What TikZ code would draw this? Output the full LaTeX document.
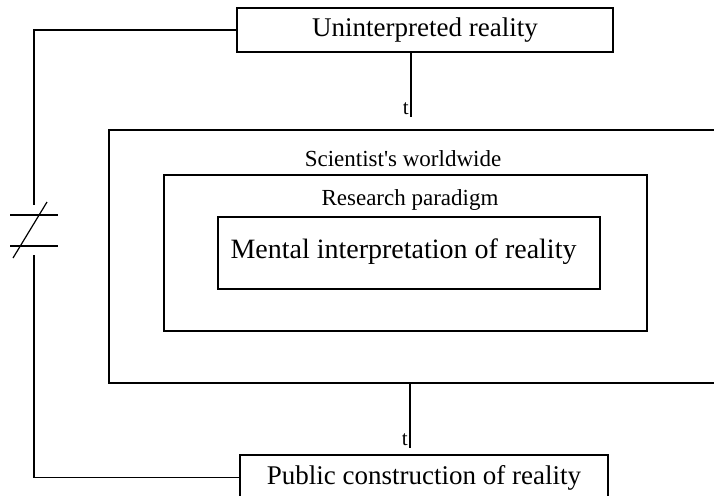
\documentclass[tikz,border=0pt]{standalone}
\usepackage{fontspec}
\setmainfont{Liberation Serif}
\usetikzlibrary{positioning}
\tikzset{
  box/.style={draw, line width=0.6pt, inner sep=0pt, font=\fontsize{13.5}{16}\selectfont},
  lbl/.style={inner sep=0pt, font=\fontsize{11.5}{14}\selectfont},
  tick/.style={inner sep=1pt, font=\fontsize{10.5}{12}\selectfont},
  wire/.style={line width=0.6pt}
}

\begin{document}
\begin{tikzpicture}[x=0.5pt, y=-0.5pt]
			\useasboundingbox (0,0) rectangle (714,495);
			\clip (0,0) rectangle (714,495);
			% the three nested frames
			\node[box, minimum width=305.5pt, minimum height=126.5pt] (world) at (414.5,256.5) {};
			\node[box, minimum width=241.5pt, minimum height=78pt] (paradigm) at (405.5,253) {};
			\node[box, minimum width=191pt, minimum height=36pt] (mental) at (409,253) {};
			\node[lbl, font=\fontsize{14}{16}\selectfont] (mentallbl) at (403.5,252) {Mental interpretation of reality};
			\node[lbl] (worldlbl) at (403,159) {Scientist\textquotesingle s worldwide};
			\node[lbl] (paradigmlbl) at (410,200) {Research paradigm};
			% top and bottom boxes
			\node[box, minimum width=188pt, minimum height=22pt] (reality) at (425,30) {Uninterpreted reality};
			\node[box, minimum width=184pt, minimum height=22.5pt] (public) at (424,477.5) {Public construction of reality};
			% vertical links
			\coordinate (tTop) at (411,117);
			\coordinate (tBot) at (410,448);
			\draw[wire] (tTop |- reality.south) -- (tTop);
			\draw[wire] (tBot |- world.south) -- (tBot);
			\node[tick, anchor=south east] (ttop) at (tTop) {t};
			\node[tick, anchor=south east] (tbot) at (tBot) {t};
			% left link, broken by the not-equal sign
			\coordinate (neqA) at (34,205);
			\coordinate (neqB) at (34,255);
			\draw[wire] (reality.west) -| (neqA);
			\draw[wire] (neqB) |- (public.west);
			\draw[wire] (10,215) -- (58,215);
			\draw[wire] (10,246) -- (58,246);
			\draw[wire] (13,258) -- (47,202);
		\end{tikzpicture}
\end{document}
